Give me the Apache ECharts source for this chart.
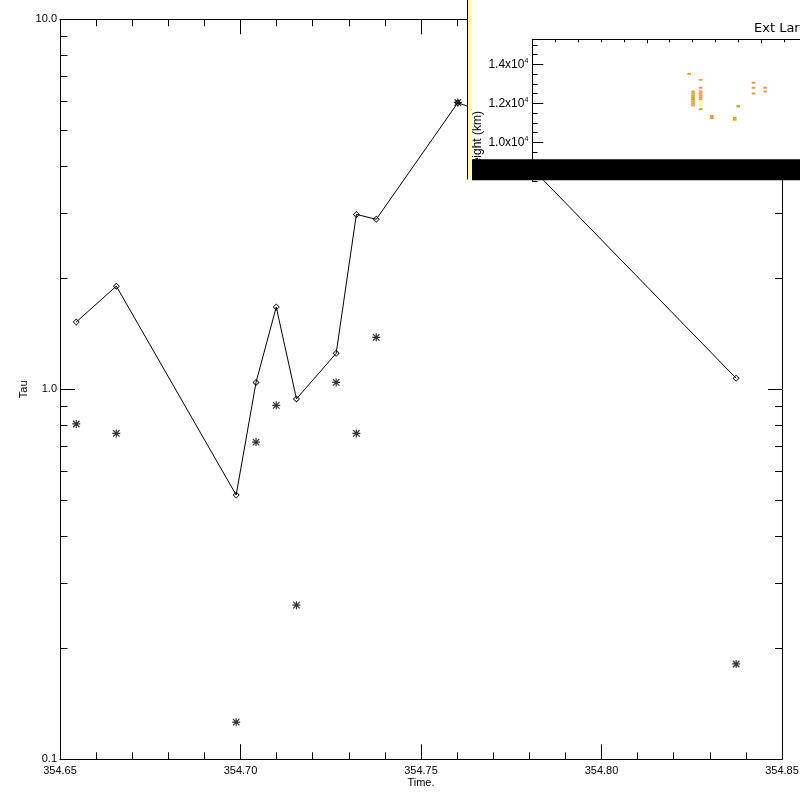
<!DOCTYPE html>
<html>
<head>
<meta charset="utf-8">
<script src="https://cdn.jsdelivr.net/npm/echarts@6/dist/echarts.min.js"></script>
<style>
  html, body { margin: 0; padding: 0; background: #fff; }
  #chart { width: 800px; height: 800px; }
</style>
</head>
<body>
<div id="chart"></div>
<script>
// main plot: Tau vs time
const timeLine = [354.6545, 354.6656, 354.6988, 354.7043, 354.7099, 354.7155, 354.7265, 354.7321, 354.7376, 354.7602, 354.7646, 354.8373];
const tauLine = [1.52, 1.90, 0.518, 1.044, 1.669, 0.942, 1.251, 2.97, 2.88, 5.95, 5.74, 1.071];
const timeStar = [354.6545, 354.6656, 354.6988, 354.7043, 354.7099, 354.7155, 354.7265, 354.7321, 354.7376, 354.7602, 354.8373];
const tauStar = [0.806, 0.760, 0.126, 0.720, 0.905, 0.261, 1.044, 0.760, 1.382, 5.96, 0.181];
const tauMinorTicks = [0.2, 0.3, 0.4, 0.5, 0.6, 0.7, 0.8, 0.9, 2, 3, 4, 5, 6, 7, 8, 9];

// inset: height image cells (x index, height, colour class)
const cellX = [6.85, 7.02, 7.02, 7.02, 7.02, 7.02, 7.02, 7.02, 7.02,
  7.35, 7.35, 7.35, 7.35, 7.35, 7.35, 7.35, 7.35, 7.35, 7.35, 7.35,
  7.84, 7.84, 8.84, 8.84, 8.99, 9.66, 9.66, 9.66, 10.17, 10.17];
const cellH = [13500, 12600, 12500, 12400, 12300, 12200, 12100, 12000, 11900,
  13200, 12800, 12600, 12500, 12400, 12300, 12200, 12100, 12000, 11900, 11700,
  11350, 11250, 11250, 11150, 11850, 13050, 12800, 12500, 12800, 12600];
const cellV = [1, 1, 1, 1, 0, 0, 1, 2, 2,
  2, 2, 2, 2, 2, 2, 2, 3, 3, 3, 0,
  2, 1, 1, 1, 0, 2, 2, 2, 2, 1];

const FONT = "Liberation Sans";
const CELL_W = 0.16, CELL_H = 100;
// IDL style asterisk and hollow diamond
const STAR = "path://M0 6.8L16 6.8L16 9.2L0 9.2Z M6.8 0L9.2 0L9.2 16L6.8 16Z " +
  "M0.65 2.35L2.35 0.65L15.35 13.65L13.65 15.35Z M13.65 0.65L15.35 2.35L2.35 15.35L0.65 13.65Z";
const DIAMOND = "path://M8 0L16 8L8 16L0 8Z M8 2.4L2.4 8L8 13.6L13.6 8Z";

const chart = echarts.init(document.getElementById("chart"));

const hideAll = {
  axisLine: { show: false },
  axisLabel: { show: false },
  splitLine: { show: false }
};

const option = {
  animation: false,
  backgroundColor: "#fff",
  title: {
    text: "Ext Large",
    left: 754,
    top: 22,
    padding: 0,
    z: 115,
    textStyle: { fontFamily: "DejaVu Sans", fontSize: 13, fontWeight: "normal", color: "#000" }
  },
  grid: [
    { left: 60, top: 19.3, width: 722, height: 740, outerBoundsMode: "none" },
    { left: 532.3, top: 39.3, width: 343.5, height: 142, outerBoundsMode: "none" }
  ],
  xAxis: [
    {
      gridIndex: 0, type: "value", position: "bottom",
      min: 354.65, max: 354.85, interval: 0.05,
      name: "Time.", nameLocation: "middle", nameGap: 18, nameMoveOverlap: false,
      nameTextStyle: { fontFamily: FONT, fontSize: 11, color: "#000" },
      axisLine: { lineStyle: { color: "#000", width: 1 } },
      axisTick: { inside: true, length: 15, lineStyle: { color: "#000" } },
      minorTick: { show: true, splitNumber: 5, length: 7, lineStyle: { color: "#000" } },
      axisLabel: { margin: 6, fontFamily: FONT, fontSize: 11, color: "#000",
        formatter: v => v.toFixed(2) },
      splitLine: { show: false }
    },
    {
      gridIndex: 0, type: "value", position: "top",
      min: 354.65, max: 354.85, interval: 0.05,
      axisLine: { lineStyle: { color: "#000", width: 1 } },
      axisTick: { inside: true, length: 15, lineStyle: { color: "#000" } },
      minorTick: { show: true, splitNumber: 5, length: 7, lineStyle: { color: "#000" } },
      axisLabel: { show: false },
      splitLine: { show: false }
    },
    {
      gridIndex: 1, type: "value", position: "top", z: 110,
      min: 0, max: 15, interval: 5,
      axisLine: { lineStyle: { color: "#000", width: 1 } },
      axisTick: { inside: true, length: 4, lineStyle: { color: "#000" } },
      minorTick: { show: true, splitNumber: 5, length: 3, lineStyle: { color: "#000" } },
      axisLabel: { show: false },
      splitLine: { show: false }
    }
  ],
  yAxis: [
    {
      gridIndex: 0, type: "log", logBase: 10, position: "left",
      min: 0.1, max: 10,
      name: "Tau", nameLocation: "middle", nameGap: 31, nameMoveOverlap: false,
      nameTextStyle: { fontFamily: FONT, fontSize: 11, color: "#000" },
      axisLine: { lineStyle: { color: "#000", width: 1 } },
      axisTick: { inside: true, length: 15, lineStyle: { color: "#000" } },
      axisLabel: { margin: 3, fontFamily: FONT, fontSize: 11, color: "#000",
        formatter: v => v.toFixed(1) },
      splitLine: { show: false }
    },
    Object.assign({
      gridIndex: 0, type: "log", logBase: 10, position: "left",
      min: 0.1, max: 10,
      axisTick: { inside: true, length: 7.5, customValues: tauMinorTicks, lineStyle: { color: "#000" } }
    }, hideAll),
    {
      gridIndex: 0, type: "log", logBase: 10, position: "right",
      min: 0.1, max: 10,
      axisLine: { lineStyle: { color: "#000", width: 1 } },
      axisTick: { inside: true, length: 14, lineStyle: { color: "#000" } },
      axisLabel: { show: false },
      splitLine: { show: false }
    },
    Object.assign({
      gridIndex: 0, type: "log", logBase: 10, position: "right",
      min: 0.1, max: 10,
      axisTick: { inside: true, length: 7, customValues: tauMinorTicks, lineStyle: { color: "#000" } }
    }, hideAll),
    {
      gridIndex: 1, type: "value", position: "left", z: 110,
      min: 8000, max: 15282, interval: 2000,
      axisLine: { lineStyle: { color: "#000", width: 1 } },
      axisTick: { inside: true, length: 11, lineStyle: { color: "#000" } },
      axisLabel: {
        margin: 4, showMaxLabel: false, showMinLabel: false, color: "#000",
        formatter: v => "{m|" + (v / 10000).toFixed(1) + "x10}{e|4}",
        rich: {
          m: { fontFamily: FONT, fontSize: 12, lineHeight: 14, color: "#000" },
          e: { fontFamily: FONT, fontSize: 7, lineHeight: 14, verticalAlign: "top", color: "#000", padding: [0, 0, 6, 0] }
        }
      },
      splitLine: { show: false }
    },
    Object.assign({
      gridIndex: 1, type: "value", position: "left", z: 110,
      min: 8000, max: 15282, interval: 500,
      axisTick: { inside: true, length: 5.3, lineStyle: { color: "#000" } }
    }, hideAll)
  ],
  visualMap: {
    show: false,
    type: "piecewise",
    seriesIndex: 2,
    dimension: 2,
    pieces: [
      { value: 0, color: "#c9a208" },
      { value: 1, color: "#f5a01a" },
      { value: 2, color: "#f8944c" },
      { value: 3, color: "#fcfc8c" }
    ]
  },
  series: [
    {
      type: "line",
      xAxisIndex: 0, yAxisIndex: 0,
      data: timeLine.map((t, i) => [t, tauLine[i]]),
      symbol: DIAMOND,
      symbolSize: 7,
      showAllSymbol: true,
      lineStyle: { color: "#000", width: 1 },
      itemStyle: { color: "#000", borderWidth: 0 },
      z: 2
    },
    {
      type: "scatter",
      xAxisIndex: 0, yAxisIndex: 0,
      data: timeStar.map((t, i) => [t, tauStar[i]]),
      symbol: STAR,
      symbolSize: 8,
      itemStyle: { color: "#000" },
      z: 3
    },
    {
      type: "custom",
      xAxisIndex: 2, yAxisIndex: 4,
      data: cellX.map((x, i) => [x, cellH[i], cellV[i]]),
      z: 110,
      clip: true,
      renderItem: function (params, api) {
        const p0 = api.coord([api.value(0) - CELL_W / 2, api.value(1) + CELL_H / 2]);
        const p1 = api.coord([api.value(0) + CELL_W / 2, api.value(1) - CELL_H / 2]);
        return {
          type: "rect",
          shape: { x: p0[0], y: p0[1], width: p1[0] - p0[0], height: p1[1] - p0[1] },
          style: { fill: api.visual("color") }
        };
      }
    }
  ],
  graphic: [
    // white inset panel covering the main plot
    { type: "rect", z: 100, shape: { x: 467, y: 0, width: 333, height: 180 }, style: { fill: "#fff" } },
    { type: "rect", z: 120, shape: { x: 467.5, y: 0, width: 4.5, height: 179.5 }, style: { fill: "#ffffa8" } },
    { type: "line", z: 121, shape: { x1: 467.5, y1: 0, x2: 467.5, y2: 179.5 }, style: { stroke: "#000", lineWidth: 1 } },
    {
      type: "text", z: 115, x: 478, y: 142, rotation: Math.PI / 2,
      style: { text: "Height (km)", fontFamily: FONT, fontSize: 12, fill: "#000", align: "center", verticalAlign: "middle" }
    },
    { type: "rect", z: 120, shape: { x: 472, y: 159.3, width: 328, height: 21 }, style: { fill: "#000" } }
  ]
};

chart.setOption(option);
</script>
</body>
</html>
